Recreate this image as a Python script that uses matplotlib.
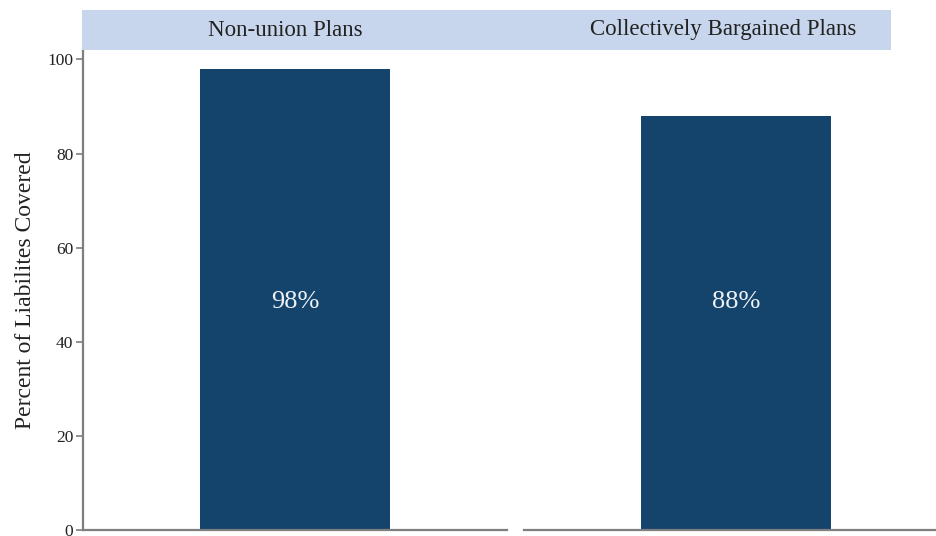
import matplotlib.pyplot as plt

plans = ['Non-union Plans', 'Collectively Bargained Plans']
coverage = [98, 88]
bar_labels = ['98%', '88%']

plt.rcParams['font.family'] = ['Liberation Serif', 'DejaVu Serif']

bar_color = '#14436b'
strip_color = '#c7d6ec'
axis_color = '#7f7f7f'
text_color = '#222222'

fig = plt.figure(figsize=(9.37, 5.36), dpi=100)
W, H = 937, 536

def px_axes(x0, x1, y0, y1):
    return fig.add_axes([x0 / W, 1 - y1 / H, (x1 - x0) / W, (y1 - y0) / H])

ax_left = px_axes(83, 507, 50, 530)
ax_right = px_axes(524, 948, 50, 530)

# shared header strip above both panels
strip = fig.add_axes([82 / W, 1 - 50 / H, (891 - 82) / W, 40 / H])
strip.set_facecolor(strip_color)
strip.set_xticks([])
strip.set_yticks([])
for s in strip.spines.values():
    s.set_visible(False)
strip.text(203 / 809, 0.5, plans[0], ha='center', va='center',
           fontsize=16.5, color=text_color, transform=strip.transAxes)
strip.text(641 / 809, 0.5, plans[1], ha='center', va='center',
           fontsize=16.5, color=text_color, transform=strip.transAxes)

label_y = max(coverage) / 2
for ax, val, lab in zip([ax_left, ax_right], coverage, bar_labels):
    ax.bar([0.5], [val], width=0.448, color=bar_color, edgecolor='none')
    ax.text(0.5, label_y, lab, ha='center', va='center_baseline', fontsize=19,
            color='#eef2f7')
    ax.set_xlim(0, 1)
    ax.set_ylim(0, 102)
    ax.set_xticks([])
    for side in ['top', 'right']:
        ax.spines[side].set_visible(False)
    ax.spines['bottom'].set_color(axis_color)
    ax.spines['bottom'].set_linewidth(1.6)

ax_left.set_yticks([0, 20, 40, 60, 80, 100])
ax_left.tick_params(axis='y', colors=axis_color, labelcolor=text_color,
                    labelsize=12.5, length=5, width=1.2, pad=2)
ax_left.spines['left'].set_color(axis_color)
ax_left.spines['left'].set_linewidth(1.6)
ax_left.set_ylabel('Percent of Liabilites Covered', fontsize=17,
                   color=text_color, labelpad=8)

ax_right.spines['left'].set_visible(False)
ax_right.set_yticks([])

fig.savefig('out.png', dpi=100)
